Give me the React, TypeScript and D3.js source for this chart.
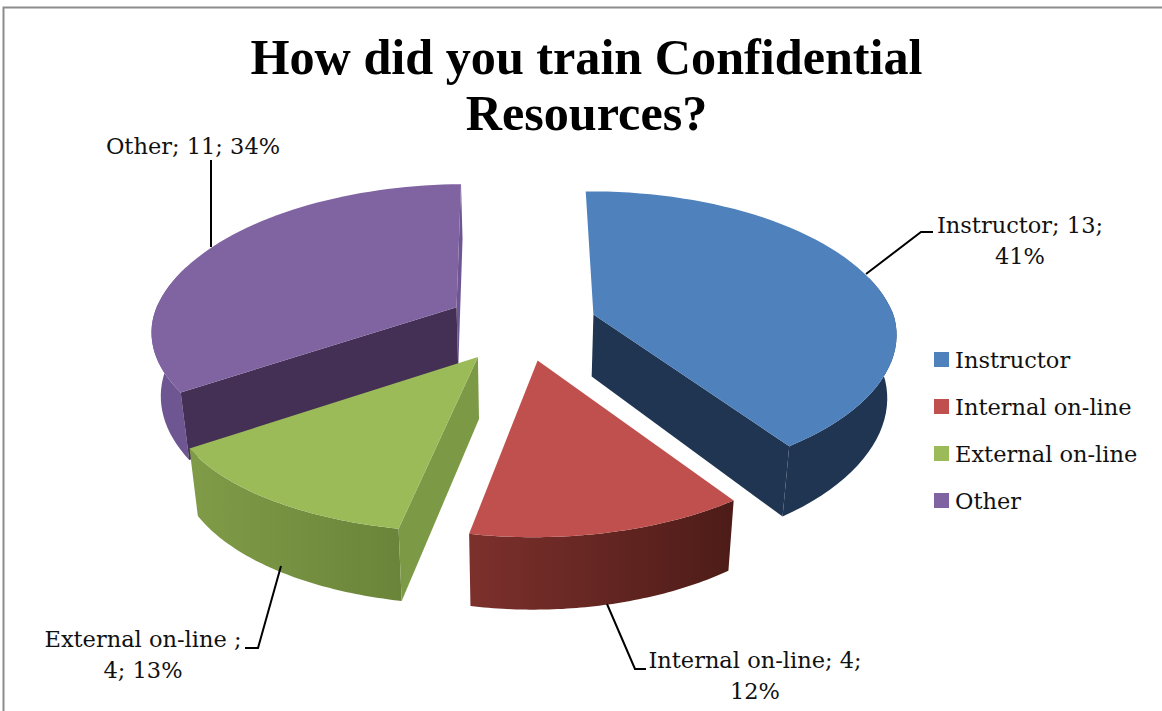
import React from "react";
import * as d3 from "d3";

const categories = ["Instructor", "Internal on-line", "External on-line", "Other"];
const values = [13, 4, 4, 11];
const topColors = ["#4f81bd", "#c0504d", "#9bbb59", "#8064a2"];
const rimFrom = ["#1f3552", "#7c302c", "#7f9b47", "#6d5691"];
const rimTo = ["#1f3552", "#4e1c18", "#6a8439", "#6d5691"];
const wallColors = ["#1f3552", "#4e1c18", "#7c9a45", "#453055"];
const frontWalls = ["end", "none", "start", "start"];
const sliceDx = [0, -2, -3, -1];
const sliceDy = [0, -2, 0, -2];
const nearScaleX = [0.98, 1, 1.03, 0.98];
const nearScaleY = [0.95, 1.01, 1, 0.93];
const titleLines = ["How did you train Confidential", "Resources?"];
const labelLines = [
  ["Instructor; 13;", "41%"],
  ["Internal on-line; 4;", "12%"],
  ["External on-line ;", "4; 13%"],
  ["Other; 11; 34%"],
];

const SERIF = "'Liberation Serif', serif";
const LABEL = "'DejaVu Serif', serif";
const W = 1162, H = 711;
const CX = 523, CY = 325.5, RX = 300, RY = 144.6, P = 0.174, DEPTH = 62, EXPLODE = 0.25, TAPER = 0.025, LEAN = 0.6;
const START = (-1 * Math.PI) / 180;

const persp = (v: number) => 1 / (1 - P * v);

const line = d3.line<[number, number]>();

export default function App() {
  const arcs = d3.pie<number>().sort(null).startAngle(START).endAngle(START + 2 * Math.PI)(values);
  const slices = arcs.map((a, i) => {
    const mid = (a.startAngle + a.endAngle) / 2;
    const ou = Math.sin(mid) * EXPLODE, ov = -Math.cos(mid) * EXPLODE;
    const fo = persp(ov);
    const ax = CX + RX * ou * fo + sliceDx[i], ay = CY + RY * ov * fo + sliceDy[i];
    const place = (u: number, v: number, z: number): [number, number] => {
      const f = persp(v);
      const shear = v > 0 ? -6 * v : -3 * v;
      const sx = v > 0 ? 1 + ((nearScaleX[i] - 1) * v) / 0.56 : 1;
      const sy = v > 0 ? nearScaleY[i] : 1;
      const x = ax + RX * u * f * sx + (ax - CX) * (f - 1) * LEAN + shear;
      const y = ay + RY * v * f * sy;
      return [CX + (x - CX) * (1 - TAPER * z), y + z * DEPTH * (1 + (f - 1) * 0.8)];
    };
    const pt = (t: number, z: number) => place(Math.sin(t), -Math.cos(t), z);
    const apex = (z: number) => place(0, 0, z);
    const ts = d3.range(0, 61).map((k) => a.startAngle + ((a.endAngle - a.startAngle) * k) / 60);
    const front = ts.filter((t) => -Math.cos(t) > -0.3);
    const rimTop = front.map((t) => pt(t, 0));
    const rimBot = front.map((t) => pt(t, 1));
    return {
      i,
      top: line([apex(0), ...ts.map((t) => pt(t, 0))])! + "Z",
      rim: line([...rimTop, ...rimBot.slice().reverse()])! + "Z",
      startWall: line([apex(0), pt(a.startAngle, 0), pt(a.startAngle, 1), apex(1)])! + "Z",
      endWall: line([apex(0), pt(a.endAngle, 0), pt(a.endAngle, 1), apex(1)])! + "Z",
      xs: d3.extent(rimBot.map((p) => p[0])) as [number, number],
    };
  });
  const order = [3, 0, 2, 1];
  const labelProps = { fontFamily: LABEL, fontSize: 22.5, fill: "#111", textAnchor: "middle" as const };
  const leader = { fill: "none", stroke: "#000", strokeWidth: 2 };
  return (
    <svg width={W} height={H} style={{ position: "absolute", left: 0, top: 0, display: "block" }}>
      <defs>
        {slices.map((s) => (
          <linearGradient key={s.i} id={`rim${s.i}`} gradientUnits="userSpaceOnUse" x1={s.xs[0]} x2={s.xs[1]} y1={0} y2={0}>
            <stop offset="0" stopColor={rimFrom[s.i]} />
            <stop offset="1" stopColor={rimTo[s.i]} />
          </linearGradient>
        ))}
      </defs>
      <rect x={0} y={0} width={W} height={H} fill="#fff" />
      <path d="M3.5,711V7.5H1162" fill="none" stroke="#8c8c8c" strokeWidth={2} />
      {titleLines.map((t, i) => (
        <text key={t} x={586.5} y={74 + i * 56} textAnchor="middle" fontFamily={SERIF} fontWeight="bold" fontSize={50.2} fill="#000">{t}</text>
      ))}
      {order.map((k) => {
        const s = slices[k];
        const front = frontWalls[k] === "start" ? s.startWall : frontWalls[k] === "end" ? s.endWall : null;
        return (
          <g key={k}>
            {k === 3 && <path d={s.endWall} fill={rimFrom[k]} />}
            <path d={s.rim} fill={`url(#rim${k})`} />
            {front && <path d={front} fill={wallColors[k]} />}
            <path d={s.top} fill={topColors[k]} />
          </g>
        );
      })}
      <path d="M211,160V247" {...leader} />
      <path d="M866,274L921,232H933" {...leader} />
      <path d="M607,604L635,669H646" {...leader} />
      <path d="M281,566L258,648H245" {...leader} />
      <g {...labelProps}>
        {labelLines[0].map((t, i) => <text key={t} x={1020} y={233 + i * 31}>{t}</text>)}
        {labelLines[1].map((t, i) => <text key={t} x={755} y={668 + i * 31}>{t}</text>)}
        {labelLines[2].map((t, i) => <text key={t} x={143} y={647 + i * 31}>{t}</text>)}
        {labelLines[3].map((t) => <text key={t} x={193} y={154}>{t}</text>)}
      </g>
      {categories.map((c, i) => (
        <g key={c}>
          <rect x={934} y={352 + i * 47} width={15} height={15} fill={topColors[i]} />
          <text x={955} y={368 + i * 47} fontFamily={LABEL} fontSize={22.5} fill="#111">{c}</text>
        </g>
      ))}
    </svg>
  );
}
